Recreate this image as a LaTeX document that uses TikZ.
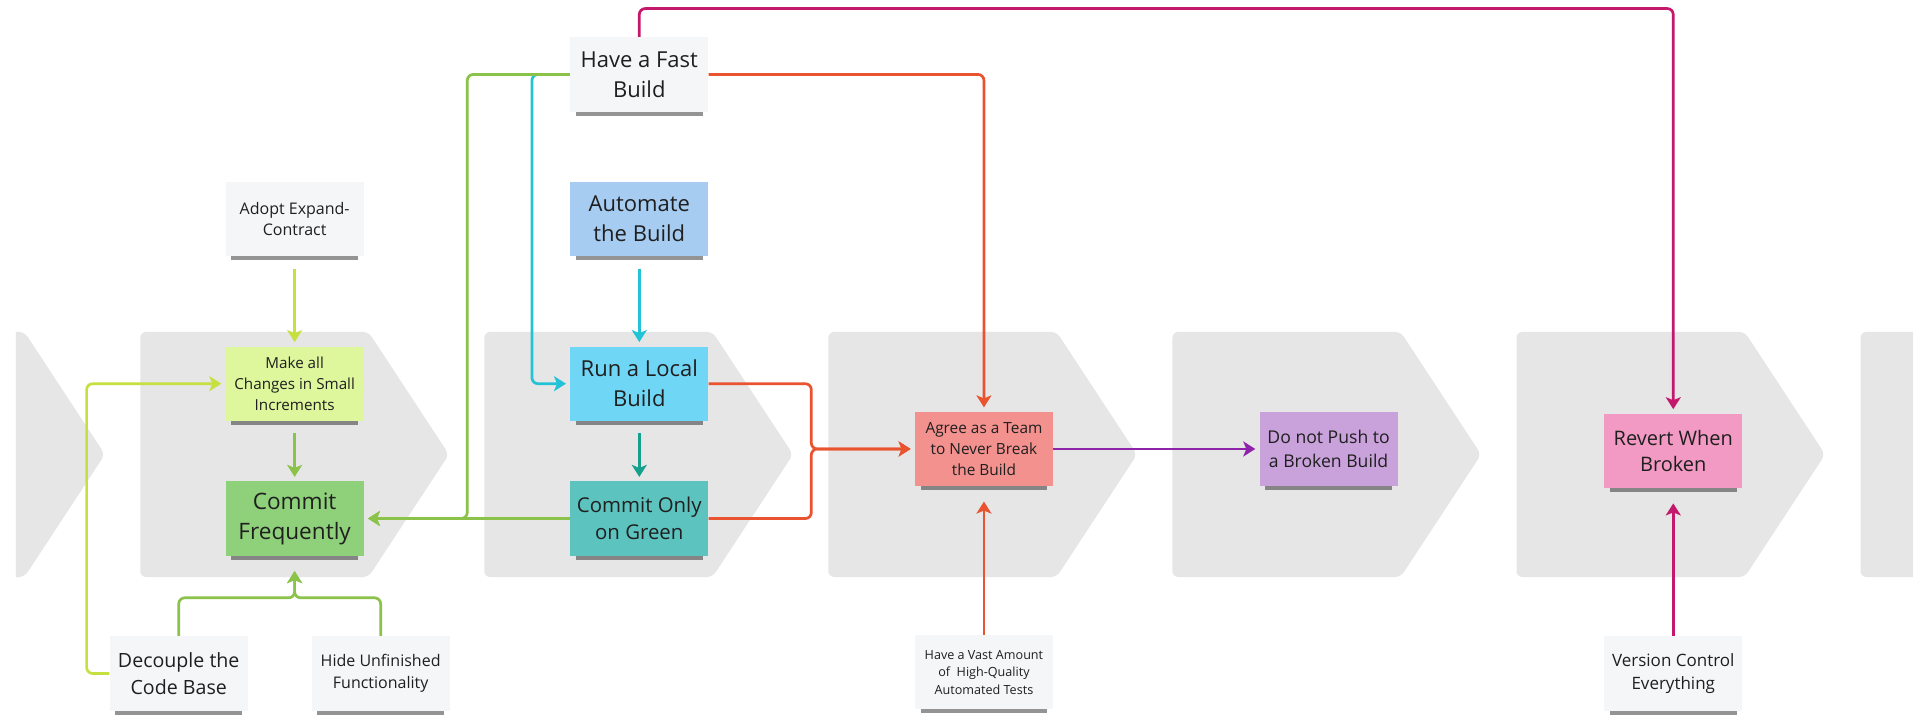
\documentclass[tikz,border=0pt]{standalone}
\usepackage{fontspec}
\setmainfont{Open Sans}
\usetikzlibrary{arrows.meta,shadows}

\definecolor{chevgray}{HTML}{E6E6E6}
\definecolor{notewhite}{HTML}{F5F6F8}
\definecolor{noteblue}{HTML}{A6CCF2}
\definecolor{notecyan}{HTML}{70D6F6}
\definecolor{noteteal}{HTML}{5CC3BF}
\definecolor{notelime}{HTML}{DEF79C}
\definecolor{notegreen}{HTML}{8ED17A}
\definecolor{notesalmon}{HTML}{F3918F}
\definecolor{notelilac}{HTML}{C9A1DB}
\definecolor{notepink}{HTML}{F29AC3}
\definecolor{linemagenta}{HTML}{C4186C}
\definecolor{linered}{HTML}{EA5330}
\definecolor{linegreen}{HTML}{8BC34A}
\definecolor{linelime}{HTML}{C6E13F}
\definecolor{linecyan}{HTML}{22C3D6}
\definecolor{lineteal}{HTML}{14A08C}
\definecolor{linepurple}{HTML}{8E24AA}

\newcommand{\notefont}[2]{\fontsize{#1}{#2}\selectfont}

\begin{document}
\begin{tikzpicture}[
                x=0.61pt, y=-0.61pt,
                note/.style={
                    rectangle,
                    minimum width=68.9pt,
                    minimum height=37.2pt,
                    inner sep=1pt,
                    align=center,
                    text=black!88,
                    drop shadow={shadow scale=0.92, shadow xshift=0pt, shadow yshift=-3.8pt, opacity=0.42, fill=black}
                },
                plainnote/.style={
                    note,
                    fill=notewhite
                },
                link/.style={
                    line width=1.35pt,
                    rounded corners=3pt,
                    shorten >=2pt,
                    -{Stealth[length=6pt, width=7.5pt, inset=1.5pt]}
                },
                fromshadow/.style={shorten <=6pt},
                intoshadow/.style={shorten >=7.5pt}
            ]

                \useasboundingbox (0,0) rectangle (1568,588);
                \fill[white] (0,0) rectangle (1568,588);
                \begin{scope}
                    \clip (13,0) rectangle (1568,588);
                    \foreach \l in {-167,115,397,679,961,1243,1525}
                        \fill[chevgray, rounded corners=3pt] (\l,272) -- (\l+187,272) -- (\l+253,372.5) -- (\l+187,473) -- (\l,473) -- cycle;
                \end{scope}

                \node[plainnote, font=\notefont{11}{15}] (fast) at (524,61) {Have a Fast\\Build};
                \node[plainnote, font=\notefont{8}{10.8}] (adopt) at (241.5,179.5) {Adopt Expand-\\Contract};
                \node[note, fill=noteblue, font=\notefont{11}{15}] (automate) at (524,179.5) {Automate\\the Build};
                \node[note, fill=notelime, font=\notefont{7.6}{10.4}] (small) at (241.5,314.5) {Make all\\Changes in Small\\Increments};
                \node[note, fill=notecyan, font=\notefont{11}{15}] (runlocal) at (524,314.5) {Run a Local\\Build};
                \node[note, fill=notegreen, font=\notefont{11.3}{15}] (commitfreq) at (241.5,425) {Commit\\Frequently};
                \node[note, fill=noteteal, font=\notefont{10.2}{13.3}] (commitgreen) at (524,425) {Commit Only\\on Green};
                \node[note, fill=notesalmon, font=\notefont{7.7}{10.5}] (agree) at (806.5,368) {Agree as a Team\\to Never Break\\the Build};
                \node[note, fill=notelilac, font=\notefont{8.8}{11.7}] (nopush) at (1089,368) {Do not Push to\\a Broken Build};
                \node[note, fill=notepink, font=\notefont{10}{13.3}] (revert) at (1371.5,369.5) {Revert When\\Broken};
                \node[plainnote, font=\notefont{9.8}{13.3}] (decouple) at (146.5,552) {Decouple the\\Code Base};
                \node[plainnote, font=\notefont{8}{10.8}] (hide) at (312,552) {Hide Unfinished\\Functionality};
                \node[plainnote, font=\notefont{6.3}{8.7}] (vast) at (806.5,551) {Have a Vast Amount\\of~ High-Quality\\Automated Tests};
                \node[plainnote, font=\notefont{8.5}{11.6}] (version) at (1371.5,552) {Version Control\\Everything};

                \coordinate (magtop) at (1371.5,7);
                \coordinate (cyanbend) at (436,314.5);
                \coordinate (greenbend) at (383,425);
                \coordinate (redjoin) at (665,368);
                \coordinate (limebend) at (71,314.5);
                \coordinate (greenjoin) at (241.5,490);

                \draw[link, linemagenta] (fast.north) |- (magtop) -- (revert.north);
                \draw[link, linered] (fast.east) -| (agree.north);
                \draw[link, linecyan] (fast.west) -| (cyanbend) -- (runlocal.west);
                \draw[link, linegreen] (fast.west) -| (greenbend) -- (commitfreq.east);
                \draw[link, linecyan, fromshadow] (automate.south) -- (runlocal.north);
                \draw[link, lineteal, fromshadow] (runlocal.south) -- (commitgreen.north);
                \draw[link, linegreen] (commitgreen.west) -- (commitfreq.east);
                \draw[link, linelime, fromshadow] (adopt.south) -- (small.north);
                \draw[link, linegreen, fromshadow] (small.south) -- (commitfreq.north);
                \draw[link, linelime] (decouple.west) -| (limebend) -- (small.west);
                \draw[link, linegreen, intoshadow] (decouple.north) |- (greenjoin) -- (commitfreq.south);
                \draw[link, linegreen, intoshadow] (hide.north) |- (greenjoin) -- (commitfreq.south);
                \draw[link, linered] (runlocal.east) -| (redjoin) -- (agree.west);
                \draw[link, linered] (commitgreen.east) -| (redjoin) -- (agree.west);
                \draw[link, linered, intoshadow] (vast.north) -- (agree.south);
                \draw[link, linepurple] (agree.east) -- (nopush.west);
                \draw[link, linemagenta, intoshadow] (version.north) -- (revert.south);
        \end{tikzpicture}
\end{document}
